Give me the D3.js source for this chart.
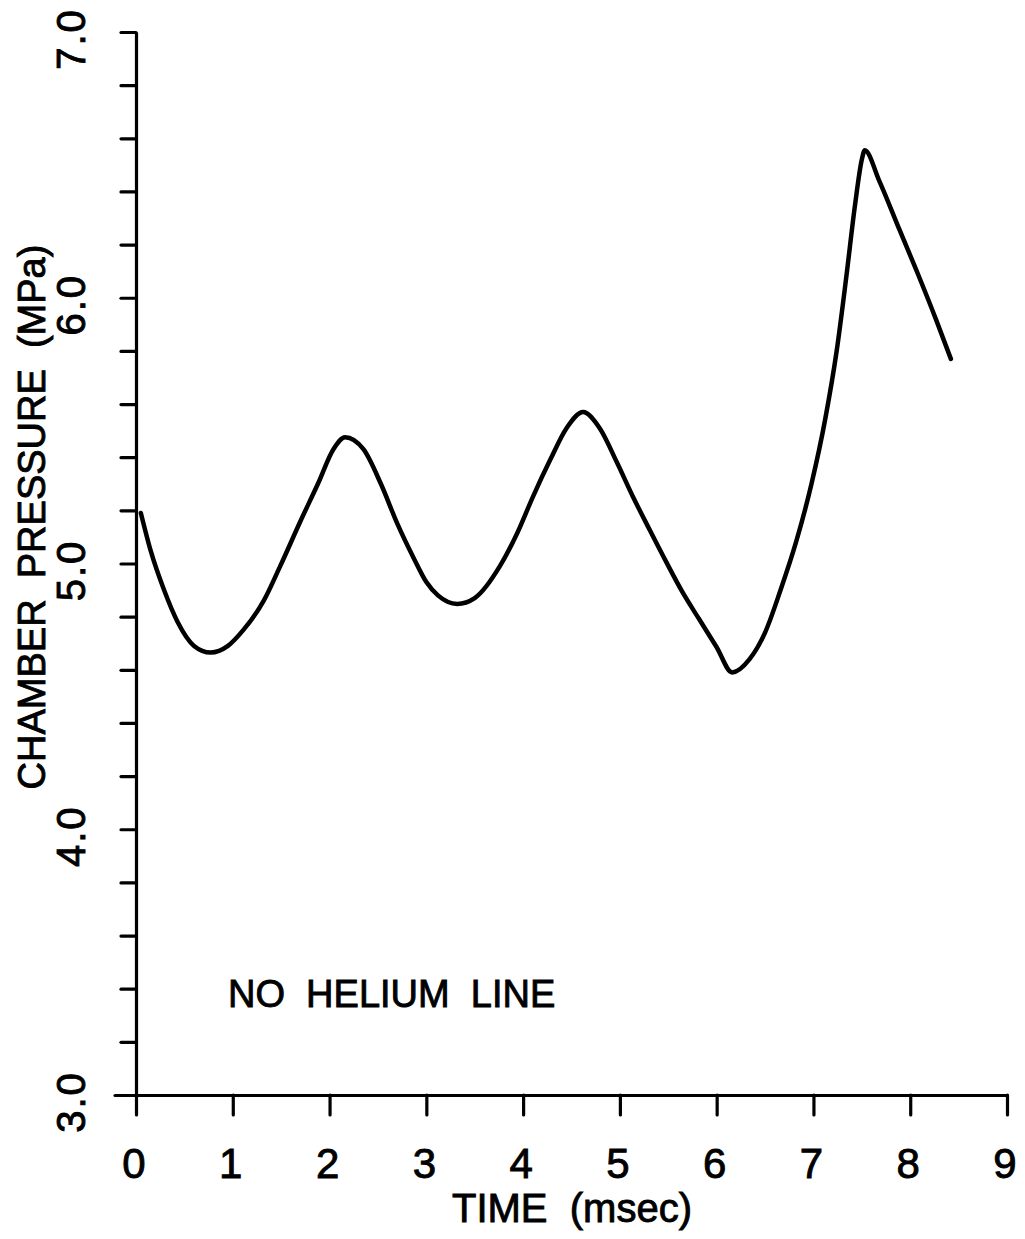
<!DOCTYPE html>
<html>
<head>
<meta charset="utf-8">
<script src="https://cdn.jsdelivr.net/npm/d3@7"></script>
<style>
  html, body { margin: 0; padding: 0; background: #fff; }
  svg { display: block; }
  text { font-family: "Liberation Sans", Arial, sans-serif; fill: #000; stroke: #000; stroke-width: 0.9px; }
</style>
</head>
<body>
<script>
// ---- data ----
const timeMs = [0.05,0.15,0.29,0.43,0.60,0.77,0.95,1.11,1.32,1.49,1.70,1.88,2.04,2.16,2.35,2.53,2.70,2.87,3.00,3.12,3.32,3.50,3.76,3.94,4.10,4.28,4.45,4.62,4.79,4.97,5.13,5.31,5.48,5.65,5.82,6.00,6.16,6.34,6.50,6.66,6.82,6.98,7.12,7.24,7.34,7.43,7.50,7.53,7.68,7.89,8.09,8.27,8.42];
const pressureMPa = [5.19,5.05,4.90,4.78,4.69,4.665,4.69,4.75,4.86,4.99,5.16,5.30,5.43,5.475,5.43,5.30,5.15,5.02,4.93,4.88,4.848,4.87,4.99,5.115,5.25,5.39,5.51,5.57,5.51,5.38,5.255,5.125,5.005,4.89,4.79,4.685,4.59,4.64,4.74,4.90,5.08,5.30,5.54,5.80,6.08,6.35,6.52,6.555,6.44,6.255,6.08,5.915,5.77];
const xTickValues = [0,1,2,3,4,5,6,7,8,9];
const xTickLabels = ["0","1","2","3","4","5","6","7","8","9"];
const yTickValues = [3,4,5,6,7];
const yTickLabels = ["3.0","4.0","5.0","6.0","7.0"];
const xTitle = "TIME\u00a0\u00a0(msec)";
const yTitle = "CHAMBER\u00a0\u00a0PRESSURE\u00a0\u00a0(MPa)";
const note = "NO\u00a0\u00a0HELIUM\u00a0\u00a0LINE";

// ---- layout ----
const W = 1025, H = 1239;
const x = d3.scaleLinear().domain([0, 9]).range([136, 1007]);
const y = d3.scaleLinear().domain([3, 7]).range([1095, 32]);

const svg = d3.select("body").append("svg").attr("width", W).attr("height", H);

// x axis
const gx = svg.append("g").attr("transform", `translate(0,${y(3)})`)
  .call(d3.axisBottom(x).tickValues(xTickValues).tickSize(20).tickSizeOuter(0).tickFormat(""));
// y axis
const gy = svg.append("g").attr("transform", `translate(${x(0)},0)`)
  .call(d3.axisLeft(y).ticks(20).tickSize(15).tickSizeOuter(0).tickFormat(""));
gy.selectAll(".tick line").filter(d => Math.abs(d - 3) < 1e-9).attr("x2", -21);

[gx, gy].forEach(g => {
  g.selectAll("path.domain").attr("stroke", "#000").attr("stroke-width", 3.2);
  g.selectAll(".tick line").attr("stroke", "#000").attr("stroke-width", 3.2).attr("stroke-linecap", "round");
});

// x tick labels
svg.append("g").selectAll("text").data(xTickValues).join("text")
  .attr("x", d => x(d) - 2)
  .attr("y", 1178)
  .attr("text-anchor", "middle")
  .attr("font-size", 42)
  .text((d, i) => xTickLabels[i]);

// y tick labels (rotated)
svg.append("g").selectAll("text").data(yTickValues).join("text")
  .attr("transform", d => `translate(85,${y(d) + 7}) rotate(-90)`)
  .attr("text-anchor", "middle")
  .attr("font-size", 40)
  .attr("letter-spacing", 2)
  .text((d, i) => yTickLabels[i]);

// axis titles
svg.append("text")
  .attr("x", 572).attr("y", 1222)
  .attr("text-anchor", "middle")
  .attr("font-size", 40)
  .text(xTitle);

svg.append("text")
  .attr("transform", `translate(45,517) rotate(-90)`)
  .attr("text-anchor", "middle")
  .attr("font-size", 38)
  .text(yTitle);

// annotation
svg.append("text")
  .attr("x", 228).attr("y", 1007)
  .attr("font-size", 38)
  .text(note);

// curve
const pts = timeMs.map((t, i) => [t, pressureMPa[i]]);
const line = d3.line()
  .x(d => x(d[0]))
  .y(d => y(d[1]))
  .curve(d3.curveMonotoneX);
svg.append("path")
  .datum(pts)
  .attr("d", line)
  .attr("fill", "none")
  .attr("stroke", "#000")
  .attr("stroke-width", 4.5)
  .attr("stroke-linejoin", "round")
  .attr("stroke-linecap", "round");
</script>
</body>
</html>
